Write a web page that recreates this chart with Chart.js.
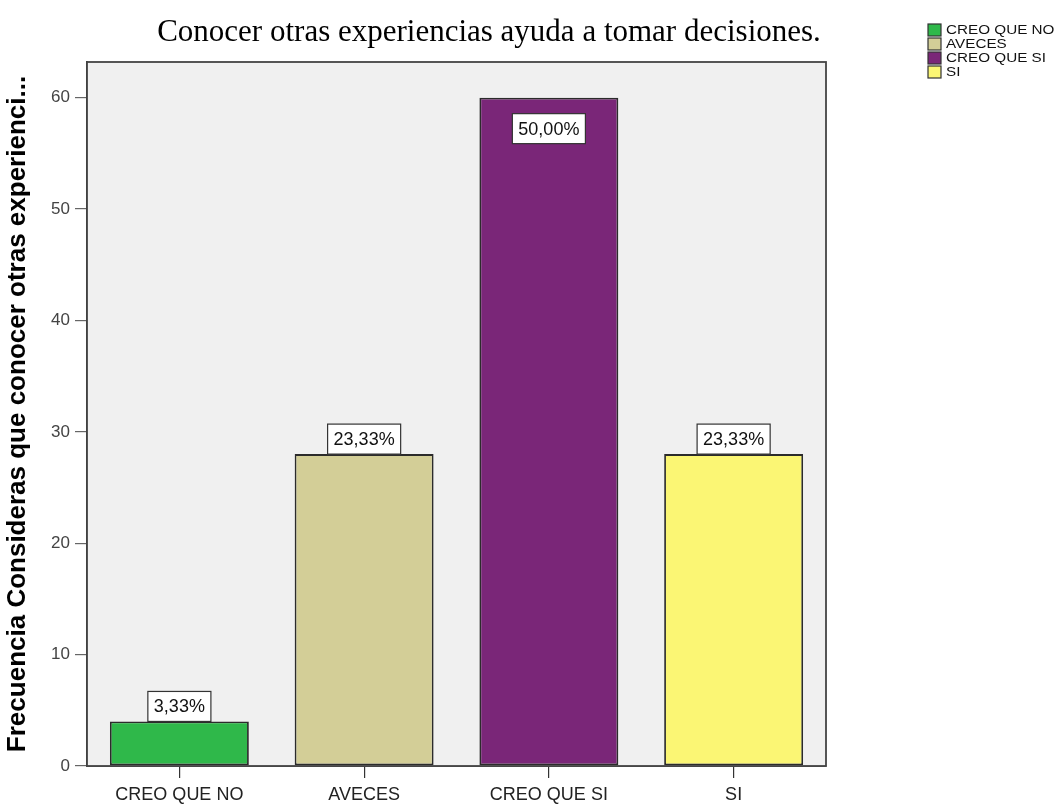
<!DOCTYPE html>
<html>
<head>
<meta charset="utf-8">
<script src="https://cdn.jsdelivr.net/npm/chart.js@4.4.1/dist/chart.umd.min.js"></script>
<style>
  html, body { margin: 0; padding: 0; background: #ffffff; }
  #wrap { width: 1061px; height: 805px; }
</style>
</head>
<body>
<div id="wrap"><canvas id="c" width="1061" height="805"></canvas></div>
<script>
// ---- data ----
const chartTitle = 'Conocer otras experiencias ayuda a tomar decisiones.';
const yAxisTitle = 'Frecuencia Consideras que conocer otras experienci...';
const categories = ['CREO QUE NO', 'AVECES', 'CREO QUE SI', 'SI'];
const frequencies = [4, 28, 60, 28];
const percentLabels = ['3,33%', '23,33%', '50,00%', '23,33%'];
const barColors = ['#2FB84A', '#D3CE97', '#7A2678', '#FBF674'];
const yTicks = [0, 10, 20, 30, 40, 50, 60];

const PLOT_BG = '#F0F0F0';
const EDGE = '#2b2b2b';

const frame = {
  id: 'frame',
  beforeDatasetsDraw(chart) {
    const a = chart.chartArea, ctx = chart.ctx;
    ctx.save();
    ctx.fillStyle = PLOT_BG;
    ctx.fillRect(a.left, a.top, a.right - a.left, a.bottom - a.top);
    ctx.restore();
  },
  afterDraw(chart) {
    const a = chart.chartArea, ctx = chart.ctx;
    ctx.save();
    ctx.strokeStyle = '#444';
    ctx.lineWidth = 1.8;
    ctx.strokeRect(a.left, a.top, a.right - a.left, a.bottom - a.top);
    // title
    ctx.fillStyle = '#000';
    ctx.font = '31px "Liberation Serif", "Times New Roman", serif';
    ctx.textAlign = 'center';
    ctx.textBaseline = 'alphabetic';
    ctx.fillText(chartTitle, 489, 41);
    // legend
    ctx.font = '12.5px "Liberation Sans", Arial, sans-serif';
    ctx.textBaseline = 'middle';
    categories.forEach((c, i) => {
      const y = 24 + i * 14;
      ctx.fillStyle = barColors[i];
      ctx.fillRect(928, y, 13, 12);
      ctx.strokeStyle = '#333';
      ctx.lineWidth = 1.2;
      ctx.strokeRect(928, y, 13, 12);
      ctx.fillStyle = '#111';
      ctx.save();
      ctx.translate(946, y + 6.5);
      ctx.scale(1.22, 1);
      ctx.textAlign = 'left';
      ctx.fillText(c, 0, 0);
      ctx.restore();
    });
    ctx.restore();
  }
};

const boxLabels = {
  id: 'boxLabels',
  afterDatasetsDraw(chart) {
    const ctx = chart.ctx;
    const meta = chart.getDatasetMeta(0);
    ctx.save();
    ctx.font = '18px "Liberation Sans", Arial, sans-serif';
    ctx.textAlign = 'center';
    ctx.textBaseline = 'middle';
    meta.data.forEach((bar, i) => {
      const txt = percentLabels[i];
      const w = ctx.measureText(txt).width + 12;
      const h = 30;
      let top;
      if (bar.y - h < chart.chartArea.top + 12) {
        top = bar.y + 16;
      } else {
        top = bar.y - h;
      }
      const left = bar.x - w / 2;
      ctx.fillStyle = '#fff';
      ctx.fillRect(left, top, w, h);
      ctx.strokeStyle = '#333';
      ctx.lineWidth = 1.2;
      ctx.strokeRect(left, top, w, h);
      ctx.fillStyle = '#111';
      ctx.fillText(txt, bar.x, top + h / 2 + 1);
    });
    ctx.restore();
  }
};

new Chart(document.getElementById('c'), {
  type: 'bar',
  data: {
    labels: categories,
    datasets: [{
      data: frequencies,
      backgroundColor: barColors,
      borderColor: EDGE,
      borderWidth: 1.8,
      borderSkipped: false,
      categoryPercentage: 1.0,
      barPercentage: 0.752
    }]
  },
  options: {
    responsive: false,
    animation: false,
    devicePixelRatio: 1,
    layout: { padding: { left: 0, right: 235, top: 62, bottom: 0 } },
    plugins: {
      legend: { display: false },
      tooltip: { enabled: false },
      title: { display: false }
    },
    scales: {
      x: {
        afterFit(s) { s.height = 39; },
        grid: { display: true, drawOnChartArea: false, drawTicks: true, tickLength: 12, offset: false, color: '#333', lineWidth: 1.2 },
        border: { display: true, color: '#333', width: 1.8 },
        ticks: { color: '#222', padding: 6, font: { family: '"Liberation Sans", Arial, sans-serif', size: 18 } }
      },
      y: {
        min: 0,
        max: 63.2,
        afterFit(s) { s.width = 87; },
        afterBuildTicks(s) { s.ticks = yTicks.map(v => ({ value: v })); },
        grid: { display: true, drawOnChartArea: false, drawTicks: true, tickLength: 12, color: '#666', lineWidth: 1.2 },
        border: { display: true, color: '#333', width: 1.8 },
        ticks: { color: '#444', padding: 5, font: { family: '"Liberation Sans", Arial, sans-serif', size: 17 } },
        title: {
          display: true,
          text: yAxisTitle,
          color: '#000',
          padding: { top: 2, bottom: 0 },
          font: { family: '"Liberation Sans", Arial, sans-serif', size: 26, weight: 'bold', lineHeight: 1.2 }
        }
      }
    }
  },
  plugins: [frame, boxLabels]
});
</script>
</body>
</html>
